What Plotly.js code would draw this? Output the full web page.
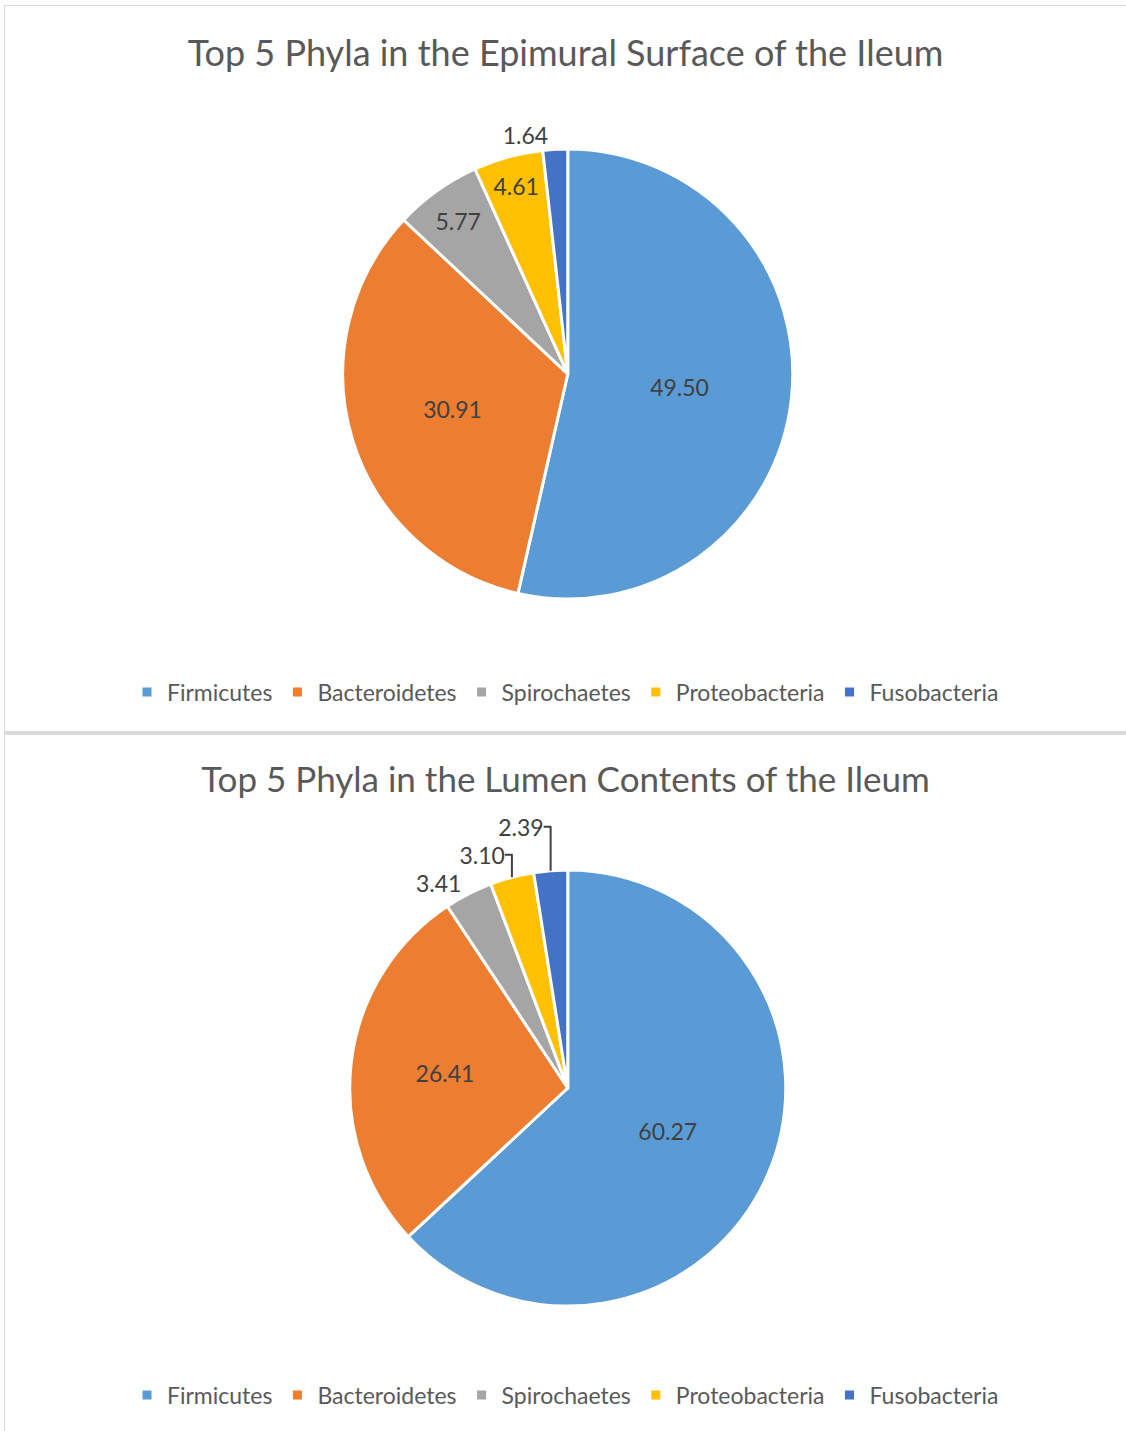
<!DOCTYPE html>
<html>
<head>
<meta charset="utf-8">
<script src="https://cdn.plot.ly/plotly-3.0.1.min.js"></script>
<style>
  html, body { margin: 0; padding: 0; background: #ffffff; }
  body { width: 1126px; height: 1431px; position: relative; overflow: hidden; }
  #p1 { position: absolute; left: 4px; top: 5px; width: 1122px; height: 726px;
        border-top: 1px solid #d9d9d9; border-left: 1px solid #d9d9d9; box-sizing: border-box; }
  #sep { position: absolute; left: 4px; top: 731px; width: 1122px; height: 4px; background: #d9d9d9; }
  #p2 { position: absolute; left: 4px; top: 735px; width: 1122px; height: 696px;
        border-left: 1px solid #d9d9d9; box-sizing: border-box; }
</style>
</head>
<body>
<div id="p1"></div>
<div id="sep"></div>
<div id="p2"></div>
<script>
const phyla = ["Firmicutes", "Bacteroidetes", "Spirochaetes", "Proteobacteria", "Fusobacteria"];
const epimuralValues = [49.50, 30.91, 5.77, 4.61, 1.64];
const lumenValues = [60.27, 26.41, 3.41, 3.10, 2.39];
const titleEpimural = "Top 5 Phyla in the Epimural Surface of the Ileum";
const titleLumen = "Top 5 Phyla in the Lumen Contents of the Ileum";
const colors = ["#5B9BD5", "#ED7D31", "#A5A5A5", "#FFC000", "#4472C4"];

const FONT = "Lato, 'Open Sans', sans-serif";

function makePie(divId, values, title, H, titleY, titleSize, centerY, R, legendY, positions) {
  const trace = {
    type: "pie",
    labels: phyla,
    values: values,
    sort: false,
    direction: "clockwise",
    rotation: 0,
    marker: { colors: colors, line: { color: "#ffffff", width: 3 } },
    texttemplate: "%{value:.2f}",
    textposition: positions,
    insidetextorientation: "horizontal",
    textfont: { family: FONT, size: 23, color: "#404040" },
    insidetextfont: { family: FONT, size: 23, color: "#404040" },
    outsidetextfont: { family: FONT, size: 23, color: "#404040" },
    hoverinfo: "label+value",
    domain: { x: [0.004, 1], y: [(H - centerY - R) / H, (H - centerY + R) / H] }
  };
  const layout = {
    width: 1121, height: H,
    margin: { l: 0, r: 0, t: 0, b: 0 },
    paper_bgcolor: "rgba(0,0,0,0)",
    plot_bgcolor: "rgba(0,0,0,0)",
    font: { family: FONT, color: "#595959" },
    title: { text: title, x: 0.5, xanchor: "center", y: 1 - titleY / H, yanchor: "middle",
             font: { family: FONT, size: titleSize, color: "#595959" } },
    showlegend: true,
    legend: { orientation: "h", x: 0.5, xanchor: "center", y: 1 - legendY / H, yanchor: "middle",
              font: { family: FONT, size: 23, color: "#595959" }, itemwidth: 30, tracegroupgap: 0 }
  };
  Plotly.newPlot(divId, [trace], layout, { staticPlot: true, displayModeBar: false });
}

makePie("p1", epimuralValues, titleEpimural, 726, 47, 36, 368, 225, 686,
        ["inside", "inside", "inside", "inside", "outside"]);
makePie("p2", lumenValues, titleLumen, 696, 45, 35, 353, 218, 660,
        ["inside", "inside", "outside", "outside", "outside"]);
</script>
</body>
</html>
